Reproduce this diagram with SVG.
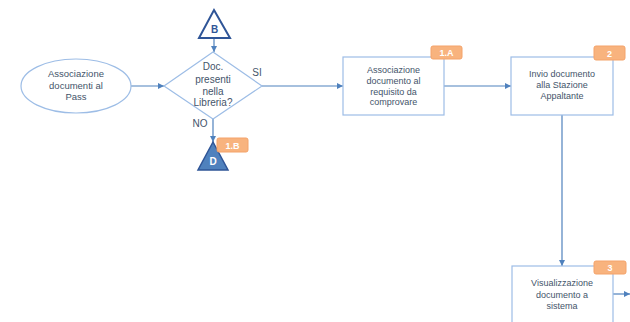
<svg xmlns="http://www.w3.org/2000/svg" width="630" height="322" viewBox="0 0 630 322">
<style>
.shape{fill:#fff;stroke:#9dbde6;stroke-width:1.2}
.lbl{font-family:"Liberation Sans",Arial,sans-serif;font-size:9px;fill:#44546a;text-anchor:middle}
.big{font-size:10px}
.con{stroke:#4f81bd;stroke-width:1.2;fill:none}
.badge rect{fill:#f8b37e;stroke:#f4a36a;stroke-width:1}
.badge text{font-family:"Liberation Sans",Arial,sans-serif;font-size:9px;font-weight:bold;fill:#fff;text-anchor:middle}
</style>
<defs>
<marker id="arr" viewBox="0 0 10 10" refX="10" refY="5" markerWidth="6" markerHeight="6" orient="auto" markerUnits="userSpaceOnUse">
<path d="M0,0 L10,5 L0,10 z" fill="#4f81bd"/>
</marker>
</defs>
<rect width="630" height="322" fill="#fff"/>
<g id="connectors">
<line class="con" x1="131" y1="86" x2="164" y2="86" marker-end="url(#arr)"/>
<line class="con" x1="214" y1="38" x2="214" y2="52" marker-end="url(#arr)"/>
<line class="con" x1="262" y1="86" x2="343" y2="86" marker-end="url(#arr)"/>
<line class="con" x1="213" y1="119" x2="213" y2="142" marker-end="url(#arr)"/>
<line class="con" x1="444" y1="86" x2="511" y2="86" marker-end="url(#arr)"/>
<line class="con" x1="562" y1="115" x2="562" y2="266" marker-end="url(#arr)"/>
<line class="con" x1="613" y1="294" x2="630" y2="294" marker-end="url(#arr)"/>
<text class="lbl big" x="257" y="76">SI</text>
<text class="lbl big" x="200" y="127">NO</text>
</g>
<g id="start">
<ellipse class="shape" cx="76" cy="86" rx="55" ry="27"/>
<text class="lbl" x="76" y="77" style="font-size:9.5px">Associazione</text>
<text class="lbl" x="76" y="89" style="font-size:9.5px">documenti al</text>
<text class="lbl" x="76" y="100" style="font-size:9.5px">Pass</text>
</g>
<g id="connB">
<polygon points="214,10 230,38 199,38" fill="#fff" stroke="#2f5597" stroke-width="2"/>
<text class="lbl" x="214.5" y="33" style="font-weight:bold;fill:#2f5597;font-size:10px">B</text>
</g>
<g id="decision">
<polygon class="shape" points="213,52 262,86 213,119 164,86"/>
<text class="lbl big" x="213" y="70">Doc.</text>
<text class="lbl big" x="213" y="83">presenti</text>
<text class="lbl big" x="213" y="95">nella</text>
<text class="lbl big" x="213" y="106">Libreria?</text>
</g>
<g id="connD">
<polygon points="213,142 228,170 198,170" fill="#4f81bd" stroke="#2f5597" stroke-width="1.5"/>
<text class="lbl" x="213" y="165" style="font-weight:bold;fill:#fff;font-size:10px">D</text>
<g class="badge"><rect x="217" y="138" width="31" height="14" rx="2"/><text x="232.5" y="148.5">1.B</text></g>
</g>
<g id="step1A">
<rect class="shape" x="343" y="57" width="101" height="58"/>
<text class="lbl" x="393.5" y="73">Associazione</text>
<text class="lbl" x="393.5" y="84">documento al</text>
<text class="lbl" x="393.5" y="95">requisito da</text>
<text class="lbl" x="393.5" y="105">comprovare</text>
<g class="badge"><rect x="431" y="46" width="31" height="13" rx="2"/><text x="446.5" y="56">1.A</text></g>
</g>
<g id="step2">
<rect class="shape" x="511" y="57" width="102" height="58"/>
<text class="lbl" x="562" y="77">Invio documento</text>
<text class="lbl" x="562" y="88">alla Stazione</text>
<text class="lbl" x="562" y="99">Appaltante</text>
<g class="badge"><rect x="594" y="46" width="31" height="14" rx="2"/><text x="609.5" y="56.5">2</text></g>
</g>
<g id="step3">
<rect class="shape" x="512" y="266" width="101" height="70"/>
<text class="lbl" x="562" y="286">Visualizzazione</text>
<text class="lbl" x="562" y="298">documento a</text>
<text class="lbl" x="562" y="309">sistema</text>
<g class="badge"><rect x="594" y="261" width="32" height="13" rx="2"/><text x="610" y="271">3</text></g>
</g>
</svg>
